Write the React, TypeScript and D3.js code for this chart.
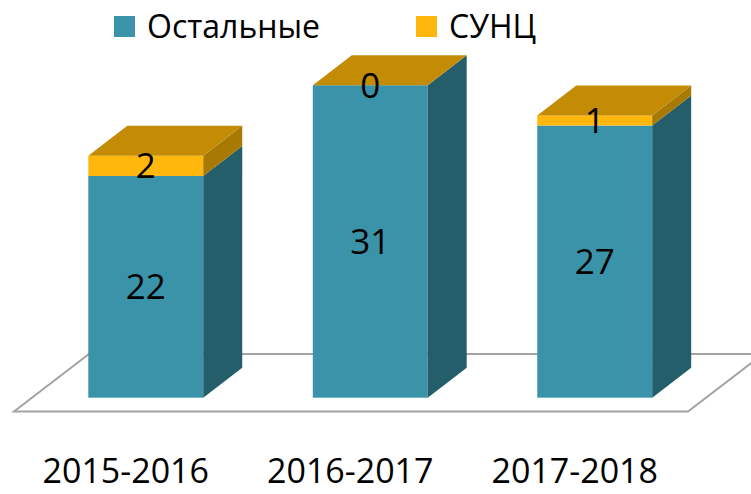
import React from "react";
import * as d3 from "d3";

const categories = ["2015-2016", "2016-2017", "2017-2018"];
const others = [22, 31, 27];
const sunc = [2, 0, 1];
const seriesNames = ["Остальные", "СУНЦ"];

const W = 751;
const H = 494;
const FONT = "'Open Sans', 'Noto Sans', sans-serif";

const COLORS = {
  blueFront: "#3A93A8",
  blueSide: "#245E6B",
  orangeFront: "#FFB70B",
  orangeSide: "#A87A04",
  top: "#C48C05",
  floor: "#A3A3A3",
};

const DX = 39;
const DY = -30;

export default function App() {
  const base = 397.7;
  const y = d3.scaleLinear().domain([0, 35]).range([base, base - 35 * 10.08]);
  const x = d3
    .scaleBand<string>()
    .domain(categories)
    .range([43.4, 697.1])
    .paddingInner(0.488)
    .paddingOuter(0.2);
  const bw = x.bandwidth();

  const stackData = categories.map((c, i) => ({
    cat: c,
    others: others[i],
    sunc: sunc[i],
  }));
  const stack = d3.stack<any>().keys(["others", "sunc"])(stackData);

  const poly = (pts: [number, number][]) =>
    pts.map((p) => p.join(",")).join(" ");

  const fs = 35;

  return (
    <svg
      width={W}
      height={H}
      style={{ position: "absolute", left: 0, top: 0, background: "#fff" }}
    >
      {/* floor */}
      <polygon
        points={poly([
          [14, 411.5],
          [688, 411.5],
          [763, 354],
          [89, 354],
        ])}
        fill="#fff"
        stroke={COLORS.floor}
        strokeWidth={2}
      />
      {categories.map((c, i) => {
        const x0 = x(c)!;
        const x1 = x0 + bw;
        const segs = stack.map((s, k) => ({
          k,
          y0: y(s[i][0]),
          y1: y(s[i][1]),
          v: s[i][1] - s[i][0],
        }));
        const topY = segs[1].y1;
        return (
          <g key={c}>
            {segs.map((sg) => (
              <g key={sg.k}>
                <rect
                  x={x0}
                  y={sg.y1}
                  width={bw}
                  height={Math.max(0, sg.y0 - sg.y1)}
                  fill={sg.k === 0 ? COLORS.blueFront : COLORS.orangeFront}
                />
                <polygon
                  points={poly([
                    [x1, sg.y1],
                    [x1 + DX, sg.y1 + DY],
                    [x1 + DX, sg.y0 + DY],
                    [x1, sg.y0],
                  ])}
                  fill={sg.k === 0 ? COLORS.blueSide : COLORS.orangeSide}
                />
              </g>
            ))}
            <polygon
              points={poly([
                [x0, topY],
                [x0 + DX, topY + DY],
                [x1 + DX, topY + DY],
                [x1, topY],
              ])}
              fill={COLORS.top}
            />
            {segs.map((sg) => (
              <text
                key={"l" + sg.k}
                x={x0 + bw / 2}
                y={(sg.y0 + sg.y1) / 2 + fs * 0.357}
                textAnchor="middle"
                fontFamily={FONT}
                fontSize={fs}
                fill="#000"
              >
                {sg.v}
              </text>
            ))}
            <text
              x={x0 + bw / 2 - 20}
              y={483}
              textAnchor="middle"
              fontFamily={FONT}
              fontSize={34}
              fill="#000"
            >
              {c}
            </text>
          </g>
        );
      })}
      {/* legend */}
      {seriesNames.map((n, k) => {
        const lx = k === 0 ? 114 : 416;
        return (
          <g key={n}>
            <rect
              x={lx}
              y={16}
              width={21}
              height={21}
              fill={k === 0 ? COLORS.blueFront : COLORS.orangeFront}
            />
            <text
              x={lx + 33}
              y={38}
              fontFamily={FONT}
              fontSize={32}
              fill="#000"
            >
              {n}
            </text>
          </g>
        );
      })}
    </svg>
  );
}
